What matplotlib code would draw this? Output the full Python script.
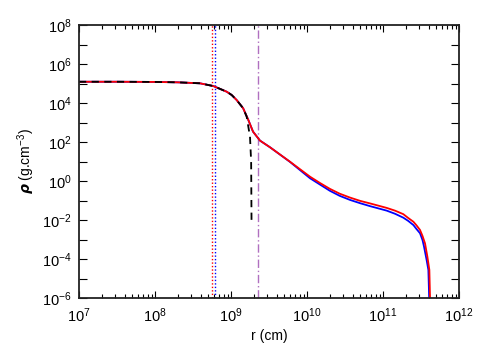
import numpy as np
import matplotlib
matplotlib.use("Agg")
import matplotlib.pyplot as plt
from matplotlib.ticker import FixedLocator, NullFormatter

plt.rcParams['font.family'] = ['Liberation Sans', 'DejaVu Sans']
plt.rcParams['mathtext.default'] = 'regular'

# log10 values
# shared inner profile (all three models)
log_r_core = [7.0, 7.5, 8.0, 8.3, 8.592, 8.767, 8.943, 9.009, 9.075, 9.16]
log_rho_core = [5.09, 5.09, 5.08, 5.06, 5.01, 4.87, 4.58, 4.41, 4.15, 3.73]

# red model (outer part)
log_r_red = [9.228, 9.29, 9.382, 9.513, 9.776, 10.04, 10.17, 10.30, 10.43, 10.566,
             10.70, 10.83, 11.049, 11.158, 11.267, 11.333, 11.40, 11.44, 11.487,
             11.52, 11.553, 11.584, 11.61, 11.625]
log_rho_red = [3.13, 2.53, 2.07, 1.73, 0.99, 0.22, -0.10, -0.40, -0.65, -0.85,
               -1.02, -1.15, -1.38, -1.52, -1.70, -1.90, -2.09, -2.27, -2.51,
               -2.82, -3.20, -3.88, -4.56, -7.0]

# blue model (outer part)
log_r_blue = [9.228, 9.29, 9.382, 9.513, 9.776, 10.04, 10.17, 10.30, 10.43, 10.566,
              10.70, 10.83, 11.049, 11.158, 11.267, 11.333, 11.40, 11.44, 11.487,
              11.52, 11.54, 11.574, 11.597, 11.615]
log_rho_blue = [3.13, 2.53, 2.07, 1.73, 0.98, 0.14, -0.18, -0.50, -0.76, -0.97,
                -1.14, -1.29, -1.52, -1.68, -1.88, -2.05, -2.26, -2.46, -2.68,
                -3.03, -3.37, -4.05, -4.56, -7.0]

# black dashed model (outer part)
log_r_dash = [9.206, 9.25, 9.265, 9.27]
log_rho_dash = [3.30, 2.27, 1.0, -2.0]

# vertical markers (cm)
r_dot_red = 5.57e8
r_dot_blue = 6.1e8
r_dashdot = 2.24e9

xtick_exp = [7, 8, 9, 10, 11, 12]
ytick_exp = [-6, -4, -2, 0, 2, 4, 6, 8]

r_red = 10 ** np.array(log_r_core + log_r_red)
rho_red = 10 ** np.array(log_rho_core + log_rho_red)
r_blue = 10 ** np.array(log_r_core + log_r_blue)
rho_blue = 10 ** np.array(log_rho_core + log_rho_blue)
r_dash = 10 ** np.array(log_r_core + log_r_dash)
rho_dash = 10 ** np.array(log_rho_core + log_rho_dash)

fig = plt.figure(figsize=(4.91, 3.5), dpi=100)
ax = fig.add_axes([79 / 491, 1 - 298 / 350, 380 / 491, 273 / 350])

ax.axvline(r_dot_red, color='red', lw=1.0, ls=(0, (1, 1.5)))
ax.axvline(r_dot_blue, color='blue', lw=1.0, ls=(0, (1, 1.5)))
ax.axvline(r_dashdot, color='#b070c0', lw=1.0, ls=(0, (6, 2, 1, 2)))

ax.plot(r_blue, rho_blue, color='blue', lw=1.3)
ax.plot(r_red, rho_red, color='red', lw=1.3)
ax.plot(r_dash, rho_dash, color='black', lw=1.3, ls=(0, (4, 3)))

ax.set_xscale('log')
ax.set_yscale('log')
ax.set_xlim(1e7, 1e12)
ax.set_ylim(1e-6, 1e8)

xminor = [m * 10.0 ** k for k in range(7, 12) for m in range(2, 10)]
ax.xaxis.set_major_locator(FixedLocator([10.0 ** k for k in xtick_exp]))
ax.xaxis.set_minor_locator(FixedLocator(xminor))
ax.xaxis.set_minor_formatter(NullFormatter())
ax.yaxis.set_major_locator(FixedLocator([10.0 ** k for k in ytick_exp]))
ax.yaxis.set_minor_locator(FixedLocator([10.0 ** k for k in range(-5, 8, 2)]))
ax.yaxis.set_minor_formatter(NullFormatter())
ax.set_xticklabels(['$10^{%d}$' % k for k in xtick_exp])
ax.set_yticklabels(['$10^{%d}$' % k for k in ytick_exp])

ax.tick_params(which='both', direction='in', top=True, right=True,
               labelsize=10.5, width=0.8, colors='black')
ax.tick_params(axis='x', which='major', length=5, pad=6)
ax.tick_params(axis='x', which='minor', length=3)
ax.tick_params(axis='y', which='both', length=6, pad=5)

for s in ax.spines.values():
    s.set_linewidth(1.3)
    s.set_color('#222222')

ax.set_xlabel('r (cm)', fontsize=10, labelpad=3)
ax.set_ylabel(r'$\boldsymbol{\rho}$ (g.cm$^{-3}$)', fontsize=10, labelpad=4)

fig.savefig('out.png', dpi=100)
